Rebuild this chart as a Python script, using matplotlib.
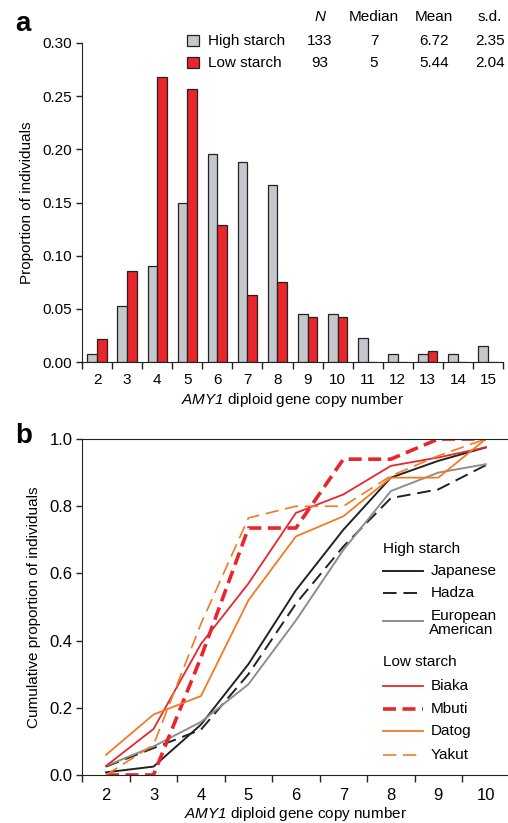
import numpy as np
import matplotlib
matplotlib.use("Agg")
import matplotlib.pyplot as plt
from matplotlib.ticker import FormatStrFormatter, FixedLocator
from matplotlib.patches import Rectangle

plt.rcParams["font.family"] = ["Liberation Sans", "DejaVu Sans"]
plt.rcParams["font.size"] = 11
# mathtext only used for the italic gene name (digits included)
plt.rcParams["mathtext.fontset"] = "custom"
plt.rcParams["mathtext.rm"] = "Liberation Sans:italic"
plt.rcParams["mathtext.it"] = "Liberation Sans:italic"

# panel a: proportion of individuals per AMY1 copy number
copies_a = np.arange(2, 16)
high_starch = [0.0075, 0.053, 0.090, 0.150, 0.196, 0.188, 0.166,
               0.045, 0.045, 0.023, 0.0075, 0.0075, 0.0075, 0.015]
low_starch = [0.022, 0.086, 0.268, 0.257, 0.129, 0.063, 0.075,
              0.042, 0.042, 0.0, 0.0, 0.010, 0.0, 0.0]
table_cols = ["N", "Median", "Mean", "s.d."]
table_high = ["133", "7", "6.72", "2.35"]
table_low = ["93", "5", "5.44", "2.04"]

# panel b: cumulative proportions
copies_b = np.arange(2, 11)
japanese = [0.008, 0.025, 0.15, 0.33, 0.55, 0.73, 0.885, 0.935, 0.975]
hadza = [0.025, 0.08, 0.135, 0.30, 0.51, 0.68, 0.824, 0.85, 0.922]
european = [0.027, 0.085, 0.158, 0.27, 0.46, 0.67, 0.845, 0.90, 0.925]
biaka = [0.027, 0.137, 0.39, 0.57, 0.78, 0.835, 0.92, 0.945, 0.975]
mbuti = [0.0, 0.0, 0.35, 0.735, 0.735, 0.94, 0.94, 1.0, 1.0]
datog = [0.06, 0.18, 0.235, 0.52, 0.71, 0.77, 0.885, 0.885, 1.0]
yakut = [0.0, 0.09, 0.45, 0.765, 0.80, 0.80, 0.89, 0.95, 1.0]

grey = "#c4c8cd"
red = "#e8262b"
orange = "#f37a22"
ink = "#222222"

fig = plt.figure(figsize=(5.08, 8.23), dpi=100)
W, H = 508.0, 823.0

def px_axes(x0, y0, x1, y1):
    return fig.add_axes([x0 / W, 1 - y1 / H, (x1 - x0) / W, (y1 - y0) / H])

xlab = "$\\mathrm{AMY1}$ diploid gene copy number"

# ---- panel a ----
ax = px_axes(82, 43, 503, 362)
bw = 0.32
ax.bar(copies_a - bw, high_starch, width=bw, align="edge", color=grey,
       edgecolor=ink, linewidth=0.9)
ax.bar(copies_a, low_starch, width=bw, align="edge", color=red,
       edgecolor=ink, linewidth=0.9)
ax.set_xlim(1.5, 15.5)
ax.set_ylim(0, 0.30)
ax.set_yticks(np.arange(0, 0.301, 0.05))
ax.yaxis.set_major_formatter(FormatStrFormatter("%.2f"))
ax.set_xticks(copies_a)
ax.xaxis.set_minor_locator(FixedLocator(np.arange(1.5, 15.6, 1)))
ax.tick_params(axis="x", which="major", length=0, pad=8)
ax.tick_params(axis="x", which="minor", length=5, width=1, color=ink)
ax.tick_params(axis="y", length=4, width=1, color=ink, pad=3)
for s in ["top", "right"]:
    ax.spines[s].set_visible(False)
for s in ["left", "bottom"]:
    ax.spines[s].set_color(ink)
ax.set_ylabel("Proportion of individuals", labelpad=6)
ax.set_xlabel(xlab, labelpad=3)

# ---- panel b ----
bx = px_axes(82.3, 439, 509.5, 775)
bx.plot(copies_b, japanese, color=ink, lw=1.4)
bx.plot(copies_b, hadza, color=ink, lw=1.4, dashes=(7, 3.5))
bx.plot(copies_b, european, color="#8e8e8e", lw=1.4)
bx.plot(copies_b, biaka, color=red, lw=1.3)
bx.plot(copies_b, mbuti, color=red, lw=2.6, dashes=(3.6, 1.8))
bx.plot(copies_b, datog, color=orange, lw=1.3)
bx.plot(copies_b, yakut, color=orange, lw=1.2, dashes=(8, 4))
bx.set_xlim(1.5, 10.5)
bx.set_ylim(0, 1.0)
bx.set_yticks(np.arange(0, 1.01, 0.2))
bx.yaxis.set_major_formatter(FormatStrFormatter("%.1f"))
bx.set_xticks(copies_b)
bx.xaxis.set_minor_locator(FixedLocator(np.arange(1.5, 10.0, 1)))
bx.tick_params(axis="x", which="major", length=0, pad=9, labelsize=12)
bx.tick_params(axis="x", which="minor", length=5, width=1, color=ink)
bx.tick_params(axis="y", length=4, width=1, color=ink, pad=3, labelsize=12)
bx.spines["right"].set_visible(False)
for s in ["left", "bottom", "top"]:
    bx.spines[s].set_color(ink)
bx.set_ylabel("Cumulative proportion of individuals", labelpad=6)
bx.set_xlabel(xlab, labelpad=2)

# ---- overlay for legends and panel letters (pixel coordinates) ----
ov = fig.add_axes([0, 0, 1, 1], zorder=5)
ov.set_xlim(0, W)
ov.set_ylim(H, 0)
ov.axis("off")
ov.patch.set_alpha(0)

ov.text(15, 31, "a", fontsize=20, fontweight="bold", ha="left", va="baseline")
ov.text(15, 443, "b", fontsize=20, fontweight="bold", ha="left", va="baseline")

# panel a legend table
ov.add_patch(Rectangle((187, 35), 12, 11, facecolor=grey, edgecolor=ink, lw=0.9))
ov.add_patch(Rectangle((187, 57), 12, 11, facecolor=red, edgecolor=ink, lw=0.9))
ov.text(208, 41, "High starch", ha="left", va="center")
ov.text(208, 63, "Low starch", ha="left", va="center")
col_x = [320, 374, 434, 490]
for cx, h, hi, lo in zip(col_x, table_cols, table_high, table_low):
    ov.text(cx, 17, h, ha="center", va="center",
            style="italic" if h == "N" else "normal")
    ov.text(cx, 41, hi, ha="center", va="center")
    ov.text(cx, 63, lo, ha="center", va="center")

# panel b legend
lx0, lx1, tx = 383, 423, 431
ov.text(lx0, 549, "High starch", ha="left", va="center")
ov.plot([lx0, lx1], [571, 571], color=ink, lw=1.4)
ov.text(tx, 571, "Japanese", ha="left", va="center")
ov.plot([lx0, lx1], [593, 593], color=ink, lw=1.4, dashes=(7, 3.5))
ov.text(tx, 593, "Hadza", ha="left", va="center")
ov.plot([lx0, lx1], [621, 621], color="#8e8e8e", lw=1.4)
ov.text(tx, 616, "European", ha="left", va="center")
ov.text(tx - 2, 630, "American", ha="left", va="center")
ov.text(lx0, 662, "Low starch", ha="left", va="center")
ov.plot([lx0, lx1], [686, 686], color=red, lw=1.3)
ov.text(tx, 686, "Biaka", ha="left", va="center")
ov.plot([lx0, lx1], [709, 709], color=red, lw=2.6, dashes=(3.6, 1.8))
ov.text(tx, 709, "Mbuti", ha="left", va="center")
ov.plot([lx0, lx1], [731, 731], color=orange, lw=1.3)
ov.text(tx, 731, "Datog", ha="left", va="center")
ov.plot([lx0, lx1], [755, 755], color=orange, lw=1.2, dashes=(8, 4))
ov.text(tx, 755, "Yakut", ha="left", va="center")

fig.savefig("out.png", dpi=100)
